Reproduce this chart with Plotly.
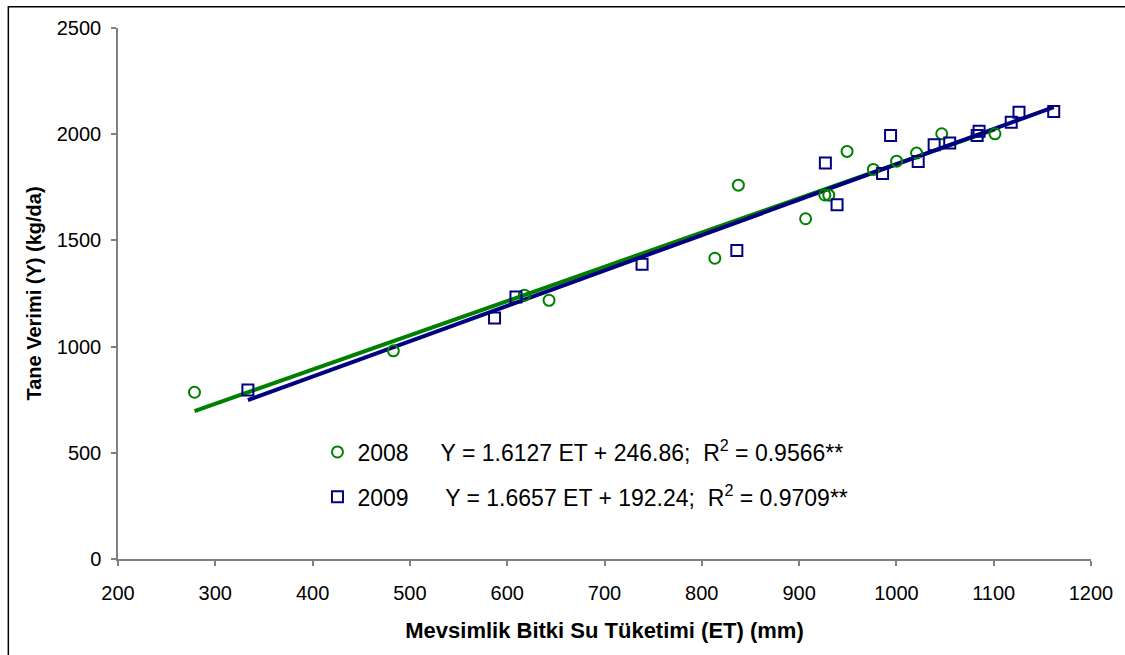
import plotly.graph_objects as go

# Seasonal crop evapotranspiration (ET, mm) and grain yield (kg/da)
et_2008 = [278.6, 483, 617.7, 643, 813.4, 837.6, 906.7, 926.4, 930.5, 949.3,
           976.3, 1000.2, 1020.7, 1046.6, 1101.3]
yield_2008 = [785, 980, 1242, 1218, 1416, 1760, 1602, 1714, 1713, 1919,
              1834, 1873, 1911, 2002, 2002]

et_2009 = [333.5, 587, 609, 738.6, 836, 927, 939, 985.8, 994, 1022.4,
           1038.8, 1054.8, 1083, 1085, 1118, 1126, 1161.7]
yield_2009 = [796, 1135, 1234, 1388, 1453, 1864, 1668, 1815, 1994, 1872,
              1950, 1958, 1994, 2014, 2056, 2103, 2107]

# Linear regression fits: Y = slope * ET + intercept
fit_2008 = {"slope": 1.6127, "intercept": 246.86, "r2": 0.9566}
fit_2009 = {"slope": 1.6657, "intercept": 192.24, "r2": 0.9709}

x_ticks = [200, 300, 400, 500, 600, 700, 800, 900, 1000, 1100, 1200]
y_ticks = [0, 500, 1000, 1500, 2000, 2500]

GREEN = "#008000"
NAVY = "#000080"
FONT = "Arial, Liberation Sans, sans-serif"


def fit_line(xs, fit):
    x0, x1 = min(xs), max(xs)
    return [x0, x1], [fit["slope"] * x0 + fit["intercept"],
                      fit["slope"] * x1 + fit["intercept"]]


def label(year, fit, gap):
    return (f"{year}{gap}Y = {fit['slope']:.4f} ET + {fit['intercept']:.2f};"
            f"&nbsp;&nbsp;R<sup>2</sup> = {fit['r2']:.4f}**")


fig = go.Figure()

lx, ly = fit_line(et_2008, fit_2008)
fig.add_trace(go.Scatter(x=lx, y=ly, mode="lines", line=dict(color=GREEN, width=4),
                         showlegend=False, legendgroup="a", hoverinfo="skip"))
lx, ly = fit_line(et_2009, fit_2009)
fig.add_trace(go.Scatter(x=lx, y=ly, mode="lines", line=dict(color=NAVY, width=4),
                         showlegend=False, legendgroup="b", hoverinfo="skip"))

fig.add_trace(go.Scatter(
    x=et_2008, y=yield_2008, mode="markers",
    name=label(2008, fit_2008, "&nbsp;" * 5),
    legendgroup="a",
    marker=dict(symbol="circle-open", size=11, color=GREEN, line=dict(width=2, color=GREEN)),
))
fig.add_trace(go.Scatter(
    x=et_2009, y=yield_2009, mode="markers",
    name=label(2009, fit_2009, "&nbsp;" * 5 + "&#8201;"),
    legendgroup="b",
    marker=dict(symbol="square-open", size=11, color=NAVY, line=dict(width=2, color=NAVY)),
))

axis_common = dict(
    showgrid=False, zeroline=False, showline=True, linecolor="#808080", linewidth=1.5,
    ticks="outside", ticklen=5, tickcolor="#808080", tickwidth=1.5,
    tickfont=dict(family=FONT, size=20, color="black"),
)

fig.update_xaxes(range=[200, 1200], tickvals=x_ticks, ticklabelstandoff=10,
                 title=dict(text="<b>Mevsimlik Bitki Su Tüketimi (ET) (mm)</b>",
                            font=dict(family=FONT, size=22, color="black"), standoff=20),
                 **axis_common)
fig.update_yaxes(range=[0, 2500], tickvals=y_ticks, ticklabelstandoff=6,
                 title=dict(text="<b>Tane Verimi (Y) (kg/da)</b>",
                            font=dict(family=FONT, size=20, color="black"), standoff=10),
                 **axis_common)

fig.update_layout(
    width=1125, height=655,
    margin=dict(l=118, r=31, t=28, b=96),
    paper_bgcolor="white", plot_bgcolor="white",
    font=dict(family=FONT, color="black"),
    legend=dict(x=0.205, y=0.242, xanchor="left", yanchor="top",
                font=dict(family=FONT, size=23, color="black"),
                tracegroupgap=12, bgcolor="rgba(0,0,0,0)"),
    shapes=[dict(type="rect", xref="paper", yref="paper",
                 x0=-0.1127, x1=1.0492, y0=-0.2, y1=1.0401,
                 line=dict(color="black", width=1.5), layer="below")],
)

fig.write_html("out.html")
